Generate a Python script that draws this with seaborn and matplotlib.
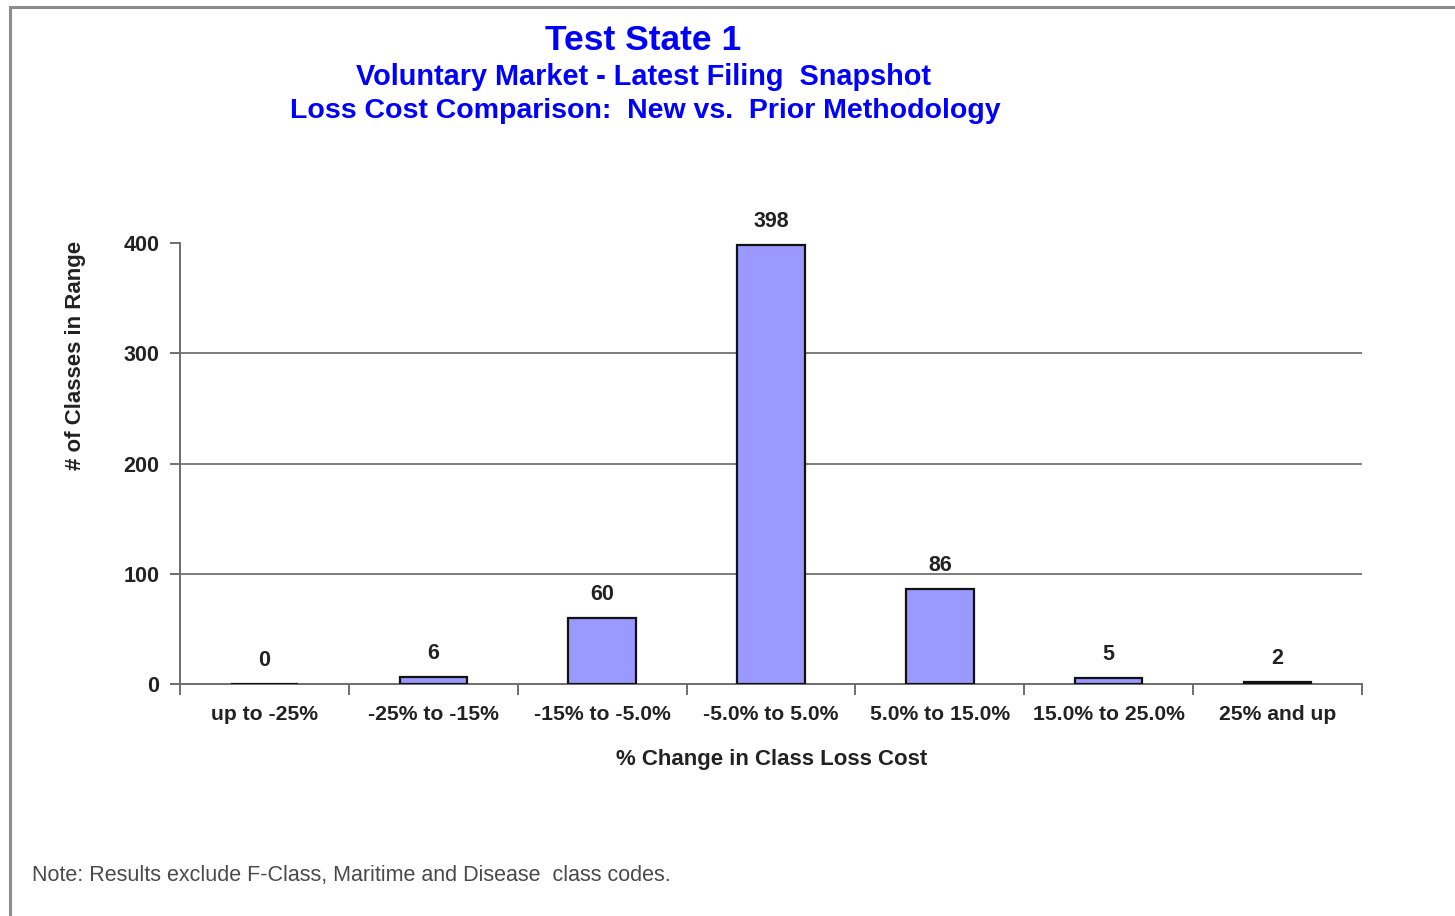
import matplotlib
matplotlib.use("Agg")
import matplotlib.pyplot as plt
from matplotlib.patches import Rectangle
import seaborn as sns
import pandas as pd

# Distribution of class loss cost changes
categories = ["up to -25%", "-25% to -15%", "-15% to -5.0%", "-5.0% to 5.0%",
              "5.0% to 15.0%", "15.0% to 25.0%", "25% and up"]
counts = [0, 6, 60, 398, 86, 5, 2]
y_ticks = [0, 100, 200, 300, 400]

title_lines = ["Test State 1",
               "Voluntary Market - Latest Filing  Snapshot",
               "Loss Cost Comparison:  New vs.  Prior Methodology"]
x_label = "% Change in Class Loss Cost"
y_label = "# of Classes in Range"
note = "Note: Results exclude F-Class, Maritime and Disease  class codes."

sns.set_theme(style="white")
plt.rcParams["font.family"] = ["Liberation Sans", "DejaVu Sans"]

W, H = 1455, 916
fig = plt.figure(figsize=(W / 100, H / 100), dpi=100)
fig.patch.set_facecolor("white")

# outer chart frame
fig.patches.append(Rectangle((10 / W, -0.1), 1.2, 1 - 7 / H + 0.1,
                             transform=fig.transFigure, fill=False,
                             edgecolor="#8c8c8c", linewidth=2.2, zorder=0))

ax = fig.add_axes([180 / W, 1 - 684 / H, (1362 - 180) / W, (684 - 243) / H])
df = pd.DataFrame({"range": categories, "count": counts})
sns.barplot(data=df, x="range", y="count", color="#9999FF", saturation=1,
            edgecolor="#111111", linewidth=1.6, width=0.4, ax=ax, zorder=3)

text_col = "#222222"
ax.set_xlim(-0.5, len(categories) - 0.5)
ax.set_ylim(0, 400)
ax.set_yticks(y_ticks)
ax.set_yticklabels([str(v) for v in y_ticks], fontsize=15.5,
                   fontweight="bold", color=text_col)
ax.set_xticks(range(len(categories)))
ax.set_xticklabels(categories, fontsize=15.2, fontweight="bold", color=text_col)
ax.set_xlabel("")
ax.set_ylabel("")

# horizontal gridlines (none at the top value)
for v in y_ticks[1:-1]:
    ax.axhline(v, color="#666666", linewidth=1.2, zorder=1)

for side in ["top", "right"]:
    ax.spines[side].set_visible(False)
for side in ["left", "bottom"]:
    ax.spines[side].set_color("#6e6e6e")
    ax.spines[side].set_linewidth(1.4)

# category ticks sit on the boundaries between bars
ax.tick_params(axis="x", length=0, pad=15)
ax.set_xticks([i - 0.5 for i in range(len(categories) + 1)], minor=True)
ax.tick_params(axis="x", which="minor", direction="out", length=8,
               width=1.4, color="#6e6e6e", bottom=True)
ax.tick_params(axis="y", direction="out", length=7, width=1.4,
               color="#6e6e6e", left=True, pad=8)

for i, c in enumerate(counts):
    ax.annotate(str(c), (i, c), xytext=(0, 9.5), textcoords="offset points",
                ha="center", va="bottom", fontsize=15.5, fontweight="bold",
                color=text_col)

blue = "#0000FF"
fig.text(643 / W, 1 - 40 / H, title_lines[0], ha="center", va="center",
         fontsize=25.5, fontweight="bold", color=blue)
fig.text(644 / W, 1 - 77 / H, title_lines[1], ha="center", va="center",
         fontsize=20.8, fontweight="bold", color=blue)
fig.text(645 / W, 1 - 111 / H, title_lines[2], ha="center", va="center",
         fontsize=20.5, fontweight="bold", color=blue)

fig.text(772 / W, 1 - 760 / H, x_label, ha="center", va="center",
         fontsize=16, fontweight="bold", color=text_col)
fig.text(75 / W, 1 - 355 / H, y_label, ha="center", va="center",
         rotation=90, fontsize=16, fontweight="bold", color=text_col)
fig.text(32 / W, 1 - 876 / H, note, ha="left", va="center",
         fontsize=15.5, color="#4a4a4a")

fig.savefig("out.png", dpi=100, facecolor="white")
